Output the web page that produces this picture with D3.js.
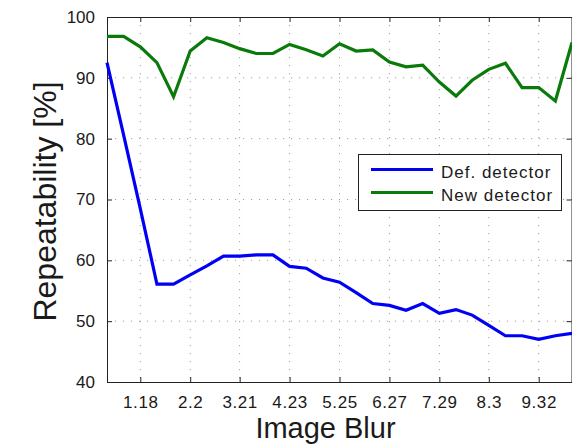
<!DOCTYPE html>
<html><head><meta charset="utf-8">
<script src="https://cdn.jsdelivr.net/npm/d3@7"></script>
<style>body{margin:0;background:#fff;}svg{display:block;font-family:"Liberation Sans",Arial,Helvetica,sans-serif;}</style>
</head><body><svg id="c" width="572" height="444"></svg>
<script>
const blur = [0.5,0.84,1.18,1.52,1.86,2.2,2.54,2.88,3.21,3.55,3.89,4.23,4.57,4.91,5.25,5.59,5.93,6.27,6.61,6.95,7.29,7.63,7.96,8.3,8.64,8.98,9.32,9.66,10];
const defDetector = [92.5,80.6,68.5,56.1,56.1,57.6,59.1,60.7,60.7,60.9,60.9,59.0,58.7,57.1,56.4,54.7,52.9,52.6,51.8,52.9,51.3,51.9,51.0,49.3,47.6,47.6,47.0,47.6,48.0];
const newDetector = [96.8,96.8,95.1,92.5,86.9,94.4,96.6,95.8,94.8,94.0,94.0,95.5,94.6,93.6,95.6,94.4,94.6,92.6,91.8,92.1,89.3,87.0,89.6,91.4,92.4,88.4,88.4,86.2,95.8];
const xTickValues = [1.18,2.2,3.21,4.23,5.25,6.27,7.29,8.3,9.32];
const xTickLabels = ["1.18","2.2","3.21","4.23","5.25","6.27","7.29","8.3","9.32"];
const yTickValues = [40,50,60,70,80,90,100];
const seriesNames = ["Def. detector","New detector"];
const seriesColors = ["#0000f5","#0a7a0a"];

const svg = d3.select("#c");
const L=107,R=572,T=17,B=382;
const x = d3.scaleLinear().domain([0.5,10]).range([L,R]);
const y = d3.scaleLinear().domain([40,100]).range([B,T]);

// grid
const g = svg.append("g");
g.selectAll(".gx").data(xTickValues).join("line")
  .attr("x1",d=>x(d)).attr("x2",d=>x(d)).attr("y1",T).attr("y2",B)
  .attr("stroke","#a0a0a0").attr("stroke-width",1).attr("stroke-dasharray","1.2,6.8");
g.selectAll(".gy").data(yTickValues.slice(1,-1)).join("line")
  .attr("x1",L).attr("x2",R).attr("y1",d=>y(d)).attr("y2",d=>y(d))
  .attr("stroke","#a0a0a0").attr("stroke-width",1).attr("stroke-dasharray","1.2,6.8");

// axes
const axB = d3.axisBottom(x).tickValues(xTickValues).tickFormat((d,i)=>xTickLabels[i]).tickSizeInner(-5).tickSizeOuter(0).tickPadding(14);
const axL = d3.axisLeft(y).tickValues(yTickValues).tickFormat(d3.format("d")).tickSizeInner(-5).tickSizeOuter(0).tickPadding(12);
const axT = d3.axisTop(x).tickValues(xTickValues).tickFormat("").tickSizeInner(-5).tickSizeOuter(0);
const axR = d3.axisRight(y).tickValues(yTickValues).tickFormat("").tickSizeInner(-5).tickSizeOuter(0);
function style(sel){sel.select(".domain").attr("stroke","#222");sel.selectAll(".tick line").attr("stroke","#222");sel.selectAll("text").attr("fill","#1a1a1a").attr("font-size",17).attr("font-family",'"Liberation Sans",Arial,sans-serif');}
const gb = svg.append("g").attr("transform",`translate(0,${B})`).call(axB).call(style);
gb.selectAll("text").attr("letter-spacing","0.6px");
svg.append("g").attr("transform",`translate(${L},0)`).call(axL).call(style);
svg.append("g").attr("transform",`translate(0,${T})`).call(axT).call(style);
svg.append("g").attr("transform",`translate(${R-0.5},0)`).call(axR).call(style);

// lines
const line = d3.line().x((d,i)=>x(blur[i])).y(d=>y(d));
[defDetector,newDetector].forEach((s,k)=>{
  svg.append("path").datum(s).attr("d",line).attr("fill","none")
    .attr("stroke",seriesColors[k]).attr("stroke-width",3.2).attr("stroke-linejoin","miter");
});

// labels
svg.append("text").attr("x",(L+R)/2-14).attr("y",437.5).attr("text-anchor","middle")
  .attr("font-size",29).attr("fill","#1a1a1a").text("Image Blur");
svg.append("text").attr("transform",`translate(56,${(T+B)/2+2}) rotate(-90)`).attr("text-anchor","middle")
  .attr("font-size",32).attr("fill","#1a1a1a").text("Repeatability [%]");

// legend
const lg = svg.append("g");
lg.append("rect").attr("x",358.5).attr("y",154.5).attr("width",203).attr("height",56)
  .attr("fill","#fff").attr("stroke","#222").attr("stroke-width",1);
seriesNames.forEach((n,k)=>{
  const yy = 169.5 + k*23;
  lg.append("line").attr("x1",371).attr("x2",433).attr("y1",yy).attr("y2",yy)
    .attr("stroke",seriesColors[k]).attr("stroke-width",3.2);
  lg.append("text").attr("x",441).attr("y",yy+8).attr("font-size",17).attr("letter-spacing","1px")
    .attr("fill","#1a1a1a").text(n);
});
</script></body></html>
